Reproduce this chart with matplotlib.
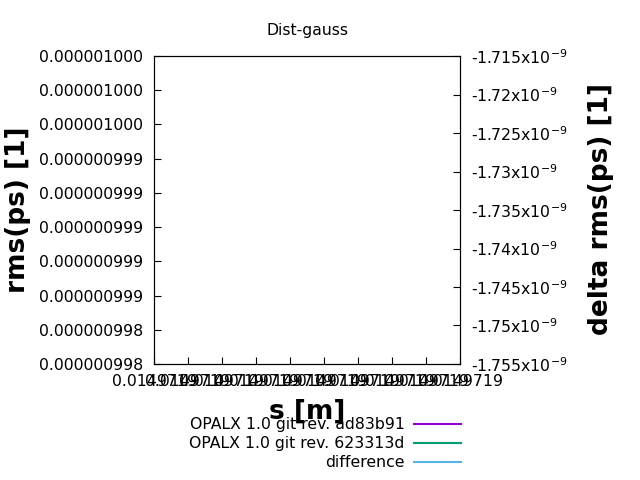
import numpy as np
import matplotlib
matplotlib.use("Agg")
import matplotlib.pyplot as plt

plt.rcParams['font.family'] = ['DejaVu Sans']

# === data (one sample per series, so the lines draw nothing) ===
s_m = [0.0149719]
rms_ad83b91 = [9.9910e-7]
rms_623313d = [9.9910e-7]
rms_diff = [-1.735e-9]

labels = ["OPALX 1.0 git rev. ad83b91", "OPALX 1.0 git rev. 623313d", "difference"]
colors = ["#9400d3", "#009e73", "#56b4e9"]

# === axis ticks ===
x_ticks = [0.01497190 + k * 1e-10 for k in range(10)]
x_ticklabels = ["0.0149719"] * 10
y_ticks = [9.982e-7, 9.984e-7, 9.986e-7, 9.988e-7, 9.990e-7,
           9.992e-7, 9.994e-7, 9.996e-7, 9.998e-7, 1.0000e-6]
y_ticklabels = ["0.000000998", "0.000000998", "0.000000999", "0.000000999", "0.000000999",
                "0.000000999", "0.000000999", "0.000001000", "0.000001000", "0.000001000"]
y2_ticks = [-1.755e-9, -1.750e-9, -1.745e-9, -1.740e-9, -1.735e-9,
            -1.730e-9, -1.725e-9, -1.720e-9, -1.715e-9]
y2_ticklabels = ["-1.755x10$^{-9}$", "-1.75x10$^{-9}$", "-1.745x10$^{-9}$", "-1.74x10$^{-9}$",
                 "-1.735x10$^{-9}$", "-1.73x10$^{-9}$", "-1.725x10$^{-9}$", "-1.72x10$^{-9}$",
                 "-1.715x10$^{-9}$"]

fs = 11.3

fig = plt.figure(figsize=(6.4, 4.8), dpi=100)
ax = fig.add_axes([154 / 640, 1 - 364 / 480, 306 / 640, 308 / 480])
ax2 = ax.twinx()

h1, = ax.plot(s_m, rms_ad83b91, color=colors[0], lw=1.5, label=labels[0])
h2, = ax.plot(s_m, rms_623313d, color=colors[1], lw=1.5, label=labels[1])
h3, = ax2.plot(s_m, rms_diff, color=colors[2], lw=1.5, label=labels[2])

ax.set_xlim(x_ticks[0], x_ticks[-1])
ax.set_ylim(y_ticks[0], y_ticks[-1])
ax2.set_ylim(y2_ticks[0], y2_ticks[-1])

ax.set_xticks(x_ticks)
ax.set_xticklabels(x_ticklabels)
ax.set_yticks(y_ticks)
ax.set_yticklabels(y_ticklabels)
ax2.set_yticks(y2_ticks)
ax2.set_yticklabels(y2_ticklabels)

ax.tick_params(axis="both", direction="in", length=5, width=0.8, labelsize=fs)
ax.tick_params(axis="y", pad=8)
ax.tick_params(axis="x", pad=7)
ax2.tick_params(axis="y", direction="in", length=5, width=0.8, labelsize=fs, pad=8)

for a in (ax, ax2):
    for sp in a.spines.values():
        sp.set_linewidth(0.8)

fig.text(307 / 640, 1 - 30 / 480, "Dist-gauss", ha="center", va="center", fontsize=fs)
fig.text(18 / 640, 1 - 210 / 480, "rms(ps) [1]", rotation=90, ha="center", va="center",
         fontsize=19, fontweight="bold")
fig.text(601 / 640, 1 - 209 / 480, "delta rms(ps) [1]", rotation=90, ha="center", va="center",
         fontsize=19, fontweight="bold")
fig.text(307 / 640, 1 - 412 / 480, "s [m]", ha="center", va="center",
         fontsize=19, fontweight="bold")

fig.legend([h1, h2, h3], labels, loc="upper right",
           bbox_to_anchor=(461 / 640, 1 - 417 / 480), frameon=False, fontsize=fs,
           markerfirst=False, handlelength=3.0, handletextpad=0.6,
           borderpad=0, borderaxespad=0, labelspacing=0.26)

fig.savefig("out.png", dpi=100)
